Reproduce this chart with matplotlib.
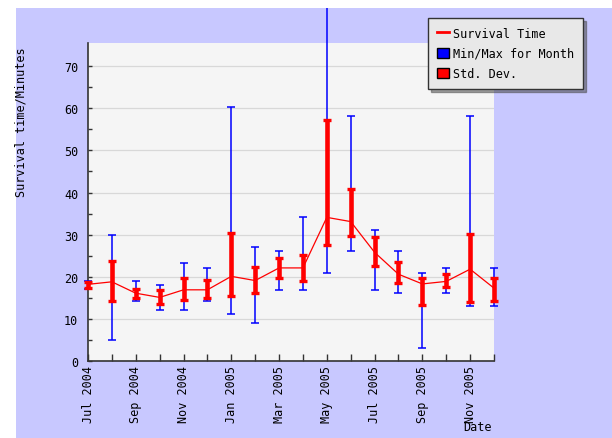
import matplotlib
matplotlib.use("Agg")
import matplotlib.pyplot as plt
import numpy as np
from matplotlib.lines import Line2D
from matplotlib.patches import Patch, Rectangle

# Monthly survival time, Jul 2004 .. Dec 2005
months = ["Jul 2004", "Aug 2004", "Sep 2004", "Oct 2004", "Nov 2004", "Dec 2004",
          "Jan 2005", "Feb 2005", "Mar 2005", "Apr 2005", "May 2005", "Jun 2005",
          "Jul 2005", "Aug 2005", "Sep 2005", "Oct 2005", "Nov 2005", "Dec 2005"]
mean_time = [18.2, 18.8, 16.1, 15.1, 16.9, 16.9, 20.1, 19.1, 22.1, 22.1, 34.1, 33.1,
             25.8, 20.6, 18.3, 18.9, 21.8, 17.3]
std_hi = [18.8, 23.8, 17.2, 16.8, 19.6, 19.3, 30.4, 22.2, 24.4, 25.2, 57.3, 40.8,
          29.5, 23.6, 19.6, 20.6, 30.1, 19.6]
std_lo = [17.3, 14.2, 15.0, 13.5, 14.5, 14.9, 15.5, 16.1, 19.7, 18.9, 27.6, 29.6,
          22.6, 18.5, 13.3, 17.5, 14.0, 14.2]
max_time = [19.0, 30.0, 18.9, 18.1, 23.2, 22.1, 60.2, 27.1, 26.0, 34.2, 90.0, 58.2,
            31.2, 26.0, 20.9, 22.1, 58.2, 22.1]
min_time = [17.2, 5.0, 14.2, 12.2, 12.2, 14.2, 11.1, 9.1, 16.9, 16.9, 20.9, 26.0,
            16.9, 16.1, 3.1, 16.1, 13.1, 13.1]

MONO = "DejaVu Sans Mono"
FS = 8.5
LAVENDER = "#c8c8ff"

fig = plt.figure(figsize=(6.12, 4.39), dpi=100, facecolor="white")
bg = Rectangle((16 / 612, 0), 1 - 16 / 612, 430 / 439, transform=fig.transFigure,
               facecolor=LAVENDER, edgecolor="none", zorder=-10)
fig.patches.append(bg)

ax = fig.add_axes([88 / 612, 1 - 362 / 439, (494 - 88) / 612, (362 - 44) / 439])
ax.set_facecolor("#f5f5f5")

x = np.arange(len(months))
mean = np.array(mean_time)

# min / max for month
eb_blue = ax.errorbar(x, mean, yerr=[mean - np.array(min_time), np.array(max_time) - mean],
                      fmt="none", ecolor="#0000ff", elinewidth=1.1, capsize=2.6,
                      capthick=1.1, zorder=3)

ax.plot(x, mean, color="#ff0000", lw=0.9, zorder=4)

# std. dev.
eb_red = ax.errorbar(x, mean, yerr=[mean - np.array(std_lo), np.array(std_hi) - mean],
                     fmt="none", ecolor="#ff0000", elinewidth=3.3, capsize=2.6,
                     capthick=2.4, zorder=5)

# let bars at the edges (and the tall May whisker) run past the plot area,
# but keep them inside the lavender panel
for eb in (eb_blue, eb_red):
    for art in list(eb.lines[1]) + list(eb.lines[2]):
        art.set_clip_path(bg)

ax.set_xlim(0, len(months) - 1)
ax.set_ylim(0, 75.5)
ax.set_yticks(np.arange(0, 71, 10))
ax.set_yticks(np.arange(5, 71, 10), minor=True)
ax.set_xticks(x[::2])
ax.set_xticklabels(months[::2], rotation=90, fontfamily=MONO, fontsize=FS)
ax.set_xticks(x[1::2], minor=True)
for lab in ax.get_yticklabels():
    lab.set_fontfamily(MONO)
    lab.set_fontsize(FS)

ax.tick_params(axis="x", which="both", direction="in", length=5, width=1,
               color="#333333", pad=3)
ax.tick_params(axis="y", which="both", direction="in", length=3, width=1,
               color="#333333", pad=7)
ax.grid(axis="y", which="major", color="#d8d8d8", lw=0.9, zorder=0)
ax.set_axisbelow(True)

for s in ["top", "right"]:
    ax.spines[s].set_visible(False)
for s in ["left", "bottom"]:
    ax.spines[s].set_color("#333333")
    ax.spines[s].set_linewidth(1.2)

fig.text(21 / 612, 1 - 47 / 439, "Survival time/Minutes", rotation=90, ha="center",
         va="top", fontfamily=MONO, fontsize=FS)
fig.text(478 / 612, 1 - 428 / 439, "Date", ha="center", va="center",
         fontfamily=MONO, fontsize=FS)

handles = [Line2D([], [], color="#ff0000", lw=2),
           Patch(facecolor="#0000ff", edgecolor="black"),
           Patch(facecolor="#ff0000", edgecolor="black")]
labels = ["Survival Time", "Min/Max for Month", "Std. Dev."]
leg = fig.legend(handles, labels, loc="upper left",
                 bbox_to_anchor=(428 / 612, 1 - 19 / 439), bbox_transform=fig.transFigure,
                 prop={"family": MONO, "size": FS}, fancybox=False, shadow=True,
                 frameon=True, handlelength=1.0, handleheight=1.0, handletextpad=0.4,
                 borderpad=0.75, labelspacing=0.6, borderaxespad=0)
leg.get_frame().set_facecolor("#e8e8e8")
leg.get_frame().set_edgecolor("#333333")
leg.get_frame().set_alpha(1)

fig.savefig("out.png", dpi=100, facecolor="white")
